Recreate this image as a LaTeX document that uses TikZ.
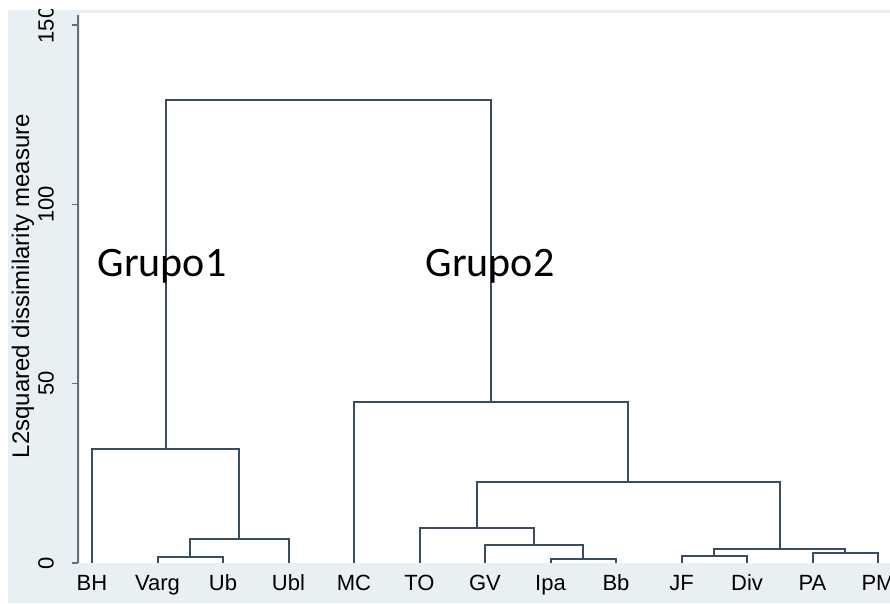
\documentclass[tikz,border=0pt]{standalone}
\usepackage{fontspec}
\setmainfont{Liberation Sans}
\newfontfamily\grupofont{Carlito}
\usetikzlibrary{calc}
\definecolor{panelgray}{RGB}{233,240,243}
\definecolor{linkblue}{RGB}{56,76,98}
\definecolor{axisgray}{RGB}{100,112,120}
\begin{document}
\begin{tikzpicture}[
    x=1pt, y=1pt,
    font=\fontsize{22}{26}\selectfont
]
	\tikzset{
	    leaflab/.style = {anchor=base, inner sep=0pt},
	    ticklab/.style = {rotate=90, anchor=center, inner sep=0pt},
	    grupo/.style = {font=\grupofont\fontsize{42}{50}\selectfont, inner sep=0pt},
	    link/.style = {draw=linkblue, line width=2pt, line join=miter},
	    axisline/.style = {draw=axisgray, line width=1.4pt}
	}
	\useasboundingbox (0,0) rectangle (890,603);
	\fill[white] (0,0) rectangle (890,603);
	\clip (8,0) rectangle (890,593);
	\fill[panelgray] (8,0) rectangle (890,593);
	\fill[white] (80,40) rectangle (890,590);
	\draw[axisline] (78,40) -- (78,588);
	\foreach \v in {0,50,100,150} {
	    \draw[axisline] (72,{40+3.587*\v}) -- (78,{40+3.587*\v});
	    \node[ticklab] (tick\v) at (46,{40+3.587*\v}) {\v};
	}
	\node[rotate=90, inner sep=0pt, font=\fontsize{24}{28}\selectfont] (ytitle) at (23,317) {L2squared dissimilarity measure};
	\begin{scope}[shift={(0,40)}, y=3.587pt]
	    \foreach \lab [count=\i] in {BH,Varg,Ub,Ubl,MC,TO,GV,Ipa,Bb,JF,Div,PA,PM} {
	        \coordinate (l\i) at ({92+65.5*(\i-1)},0);
	        \node[leaflab] (t\i) at ($(l\i)+(0,-7.53)$) {\lab};
	    }
	    \foreach \m/\a/\b/\h in {c1/l2/l3/1.7, c2/c1/l4/6.7, c3/l1/c2/31.8,
	        c4/l8/l9/1.1, c5/l7/c4/5.0, c6/l6/c5/9.8, c7/l10/l11/2.0,
	        c8/l12/l13/2.8, c9/c7/c8/3.9, c10/c6/c9/22.6, c11/l5/c10/44.9,
	        c12/c3/c11/129.1} {
	        \coordinate (mid) at ($(\a)!.5!(\b)$);
	        \coordinate (\m) at (mid |- 0,\h);
	        \draw[link] (\a) |- (\m) -| (\b);
	    }
	\end{scope}
	\node[grupo] (g1) at (162,337) {Grupo1};
	\node[grupo] (g2) at (490,337) {Grupo2};
\end{tikzpicture}
\end{document}
